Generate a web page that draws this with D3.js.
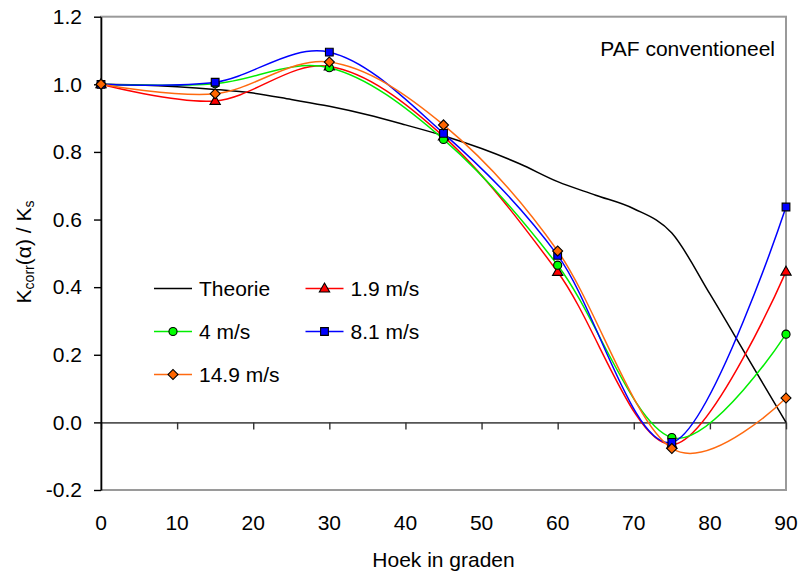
<!DOCTYPE html>
<html>
<head>
<meta charset="utf-8">
<script src="https://cdn.jsdelivr.net/npm/d3@7"></script>
<style>
  html, body { margin: 0; padding: 0; background: #fff; }
  svg { display: block; font-family: "Liberation Sans", Arial, sans-serif; }
</style>
</head>
<body>
<svg id="chart" width="798" height="571"></svg>
<script>
// Angles (degrees) at which the measurements were taken
const angles = [0, 15, 30, 45, 60, 75, 90];

// Measured K_corr(α)/K_s for each wind speed
const v19  = [1.000, 0.951, 1.053, 0.846, 0.445, -0.066, 0.446];
const v4   = [1.000, 1.002, 1.049, 0.837, 0.465, -0.045, 0.261];
const v81  = [1.000, 1.006, 1.095, 0.855, 0.494, -0.059, 0.637];
const v149 = [1.000, 0.972, 1.066, 0.880, 0.507, -0.077, 0.072];

// Theoretical curve, sampled every 5 degrees
const theoryAngles = [0, 5, 10, 15, 20, 25, 30, 35, 40, 45, 50, 55, 60, 65, 70, 75, 80, 85, 90];
const theoryValues = [1.000, 0.998, 0.993, 0.985, 0.974, 0.955, 0.935, 0.910, 0.880, 0.848, 0.810, 0.765, 0.712, 0.672, 0.632, 0.560, 0.380, 0.190, 0.000];

// Axis ticks
const xTicks = [0, 10, 20, 30, 40, 50, 60, 70, 80, 90];
const yTicks = [-0.2, 0.0, 0.2, 0.4, 0.6, 0.8, 1.0, 1.2];
const yTickLabels = ["-0.2", "0.0", "0.2", "0.4", "0.6", "0.8", "1.0", "1.2"];

const seriesNames = ["Theorie", "1.9 m/s", "4 m/s", "8.1 m/s", "14.9 m/s"];

const svg = d3.select("#chart");
const FONT = 21;

const x = d3.scaleLinear().domain([0, 90]).range([101, 786]);
const y = d3.scaleLinear().domain([-0.2, 1.2]).range([490, 16.7]);

// Plot area frame
svg.append("rect")
  .attr("x", x(0)).attr("y", y(1.2))
  .attr("width", x(90) - x(0)).attr("height", y(-0.2) - y(1.2))
  .attr("fill", "#fff").attr("stroke", "#9a9a9a").attr("stroke-width", 2);

// Zero line acting as the category axis, ticks pointing down
const xAxis = svg.append("g")
  .attr("transform", `translate(0,${y(0)})`)
  .call(d3.axisBottom(x).tickValues(xTicks).tickSize(7).tickSizeOuter(0).tickFormat(""));
xAxis.select(".domain").attr("stroke", "#555").attr("stroke-width", 1.6);
xAxis.selectAll(".tick line").attr("stroke", "#333").attr("stroke-width", 1.4);

// X tick labels along the bottom
svg.append("g").selectAll("text").data(xTicks).join("text")
  .attr("x", d => x(d)).attr("y", 530)
  .attr("text-anchor", "middle").attr("font-size", FONT).attr("fill", "#000")
  .text(d => d);

// Value axis
const yAxis = svg.append("g")
  .attr("transform", `translate(${x(0)},0)`)
  .call(d3.axisLeft(y).tickValues(yTicks).tickSize(7).tickSizeOuter(0).tickPadding(12)
    .tickFormat((d, i) => yTickLabels[i]));
yAxis.select(".domain").attr("stroke", "#000").attr("stroke-width", 1.6);
yAxis.selectAll(".tick line").attr("stroke", "#000").attr("stroke-width", 1.4);
yAxis.selectAll(".tick text").attr("font-size", FONT).attr("fill", "#000")
  .attr("font-family", "Liberation Sans, Arial, sans-serif");

// Axis titles
svg.append("text")
  .attr("x", (x(0) + x(90)) / 2).attr("y", 567)
  .attr("text-anchor", "middle").attr("font-size", FONT)
  .text("Hoek in graden");

const yTitle = svg.append("text")
  .attr("transform", "translate(31,252) rotate(-90)")
  .attr("text-anchor", "middle").attr("font-size", FONT);
yTitle.append("tspan").text("K");
yTitle.append("tspan").attr("font-size", 14).attr("dy", 3).text("corr");
yTitle.append("tspan").attr("dy", -3).text("(α) / K");
yTitle.append("tspan").attr("font-size", 14).attr("dy", 3).text("s");

svg.append("text")
  .attr("x", 775).attr("y", 56).attr("text-anchor", "end").attr("font-size", FONT)
  .text("PAF conventioneel");

// Smoothed series lines
const line = d3.line().curve(d3.curveCardinal.tension(0))
  .x(d => x(d[0])).y(d => y(d[1]));

svg.append("path")
  .datum(d3.zip(theoryAngles, theoryValues))
  .attr("d", line).attr("fill", "none").attr("stroke", "#000").attr("stroke-width", 1.5);

const series = [
  { name: seriesNames[1], values: v19,  color: "#ff0000", marker: "triangle" },
  { name: seriesNames[2], values: v4,   color: "#00ee00", marker: "circle" },
  { name: seriesNames[3], values: v81,  color: "#0000ff", marker: "square" },
  { name: seriesNames[4], values: v149, color: "#ff6a10", marker: "diamond" }
];

const markerFill = { triangle: "#ff0000", circle: "#00ff00", square: "#0000ff", diamond: "#ff6600" };

function drawMarker(g, kind, cx, cy) {
  let sym, size, rot = 0, dy = 0;
  if (kind === "triangle") { sym = d3.symbolTriangle; size = 46; dy = 0.5; }
  else if (kind === "circle") { sym = d3.symbolCircle; size = 52; }
  else if (kind === "square") { sym = d3.symbolSquare; size = 60; }
  else { sym = d3.symbolSquare; size = 50; rot = 45; }
  g.append("path")
    .attr("d", d3.symbol().type(sym).size(size)())
    .attr("transform", `translate(${cx},${cy + dy}) rotate(${rot})`)
    .attr("fill", markerFill[kind]).attr("stroke", "#000").attr("stroke-width", 1.1);
}

series.forEach(s => {
  svg.append("path")
    .datum(d3.zip(angles, s.values))
    .attr("d", line).attr("fill", "none").attr("stroke", s.color).attr("stroke-width", 1.5);
});
series.forEach(s => {
  const g = svg.append("g");
  angles.forEach((a, i) => drawMarker(g, s.marker, x(a), y(s.values[i])));
});

// Legend
const legendRows = [
  { col: 0, row: 0, name: seriesNames[0], color: "#000", marker: null },
  { col: 1, row: 0, name: seriesNames[1], color: series[0].color, marker: "triangle" },
  { col: 0, row: 1, name: seriesNames[2], color: series[1].color, marker: "circle" },
  { col: 1, row: 1, name: seriesNames[3], color: series[2].color, marker: "square" },
  { col: 0, row: 2, name: seriesNames[4], color: series[3].color, marker: "diamond" }
];
const legend = svg.append("g");
legendRows.forEach(r => {
  const lx = 154 + r.col * 151.5;
  const ly = 288.5 + r.row * 43;
  legend.append("line")
    .attr("x1", lx).attr("x2", lx + 38).attr("y1", ly).attr("y2", ly)
    .attr("stroke", r.color).attr("stroke-width", 1.5);
  if (r.marker) drawMarker(legend, r.marker, lx + 19, ly);
  legend.append("text")
    .attr("x", lx + 45).attr("y", ly + 7.5).attr("font-size", FONT)
    .text(r.name);
});
</script>
</body>
</html>
